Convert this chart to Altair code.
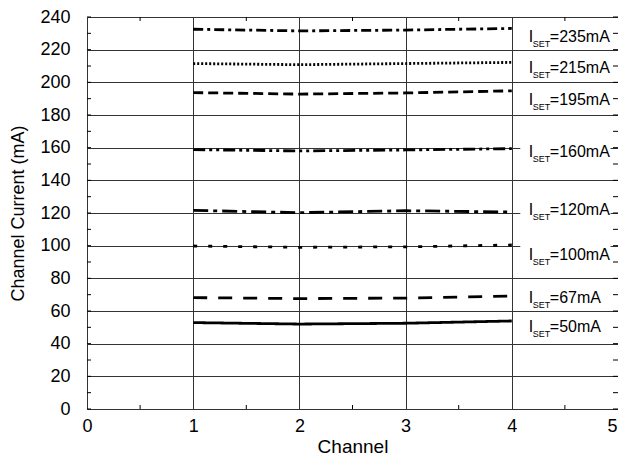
import altair as alt
import pandas as pd

# ---- data ----
channels = [1, 2, 3, 4]
series = ["235", "215", "195", "160", "120", "100", "67", "50"]
current_235 = [232.5, 231.5, 232.0, 233.0]
current_215 = [211.5, 210.8, 211.5, 212.2]
current_195 = [193.7, 192.8, 193.5, 194.8]
current_160 = [158.8, 158.0, 158.6, 159.4]
current_120 = [121.6, 120.2, 121.4, 120.6]
current_100 = [99.8, 99.0, 99.3, 100.4]
current_67 = [68.2, 67.6, 67.9, 69.2]
current_50 = [52.9, 52.0, 52.5, 53.9]
label_texts = ["=235mA", "=215mA", "=195mA", "=160mA", "=120mA", "=100mA", "=67mA", "=50mA"]
label_y = [228, 208.7, 189, 157.5, 122, 94.3, 68, 50.4]

x_ticks = [0, 1, 2, 3, 4, 5]
y_ticks = [0, 20, 40, 60, 80, 100, 120, 140, 160, 180, 200, 220, 240]
minor_y = [v for v in range(0, 241, 10)]
minor_x = [0.5, 1.5, 2.5, 3.5, 4.5]

all_currents = [current_235, current_215, current_195, current_160,
                current_120, current_100, current_67, current_50]

# ---- styles ----
dashes = [[10, 4, 3, 4], [2, 2], [10, 5], [12, 4, 3, 4, 3, 4],
          [15, 5, 4, 5], [4, 11], [14, 11], [1, 0]]
FONT = "Liberation Sans"
W, H = 531, 392
LABEL_X = 4.16

rows = []
for s, vals in zip(series, all_currents):
    for c, v in zip(channels, vals):
        rows.append({"series": s, "channel": c, "current": v})
df = pd.DataFrame(rows)

lab = pd.DataFrame({"series": series, "text": label_texts, "y": label_y})
lab["x"] = LABEL_X
lab["rx"] = 4.08
lab["rx2"] = 4.93
lab["ry"] = lab["y"] - 8
lab["ry2"] = lab["y"] + 8

xscale = alt.Scale(domain=[0, 5], nice=False, zero=False)
yscale = alt.Scale(domain=[0, 240], nice=False, zero=True)

xaxis = alt.Axis(values=x_ticks, format="d", grid=True, gridColor="#333", gridWidth=1,
                 ticks=False, domain=False, labelFontSize=18, labelFont=FONT,
                 labelColor="black", labelPadding=8, title="Channel",
                 titleFont=FONT, titleFontSize=19, titleFontWeight="normal",
                 titleColor="black", titlePadding=2, labelFlush=False,
                 labelOverlap=False,
                 labelOffset=alt.ExprRef("datum.value == 5 ? -6 : 0"))
yaxis = alt.Axis(values=y_ticks, format="d", grid=True, gridColor="#333", gridWidth=1,
                 ticks=False, domain=False, labelFontSize=18, labelFont=FONT,
                 labelColor="black", labelPadding=17, title="Channel Current (mA)",
                 titleFont=FONT, titleFontSize=18, titleFontWeight="normal",
                 titleColor="black", titlePadding=12, labelFlush=False,
                 labelOverlap=False)


def X(field):
    return alt.X(field, scale=xscale, axis=xaxis)


def Y(field):
    return alt.Y(field, scale=yscale, axis=yaxis)


rects = alt.Chart(lab).mark_rect(color="white").encode(
    x=X("rx:Q"), x2="rx2:Q", y=Y("ry:Q"), y2="ry2:Q",
)

lines = alt.Chart(df).mark_line(color="black", strokeWidth=2.8, strokeCap="butt").encode(
    x=X("channel:Q"),
    y=Y("current:Q"),
    strokeDash=alt.StrokeDash("series:N", scale=alt.Scale(domain=series, range=dashes), legend=None),
    detail="series:N",
)

ty = pd.DataFrame({"v": minor_y})
tx = pd.DataFrame({"v": minor_x})
lt = alt.Chart(ty).mark_rule(color="black", strokeWidth=1).encode(
    y=Y("v:Q"), x=alt.value(0), x2=alt.value(4))
rt = alt.Chart(ty).mark_rule(color="black", strokeWidth=1).encode(
    y=Y("v:Q"), x=alt.value(W - 5), x2=alt.value(W))
bt = alt.Chart(tx).mark_rule(color="black", strokeWidth=1).encode(
    x=X("v:Q"), y=alt.value(H - 4), y2=alt.value(H))
tt = alt.Chart(tx).mark_rule(color="black", strokeWidth=1).encode(
    x=X("v:Q"), y=alt.value(0), y2=alt.value(4))

t_i = alt.Chart(lab).mark_text(text="I", font=FONT, fontSize=16, align="left",
                               baseline="middle", color="black").encode(
    x=X("x:Q"), y=Y("y:Q"))
t_sub = alt.Chart(lab).mark_text(text="SET", font=FONT, fontSize=9, align="left",
                                 baseline="middle", dx=4, dy=7, color="black").encode(
    x=X("x:Q"), y=Y("y:Q"))
t_val = alt.Chart(lab).mark_text(font=FONT, fontSize=16, align="left",
                                 baseline="middle", dx=21, color="black").encode(
    x=X("x:Q"), y=Y("y:Q"), text="text:N")

chart = alt.layer(rects, lines, lt, rt, bt, tt, t_i, t_sub, t_val).properties(
    width=W, height=H,
    autosize=alt.AutoSizeParams(type="none"),
    padding={"left": 79, "top": 9, "right": 0, "bottom": 48},
).configure_view(stroke="black", strokeWidth=1.5).configure(background="white")

chart.save("out.html", embed_options={"renderer": "svg", "actions": False})
